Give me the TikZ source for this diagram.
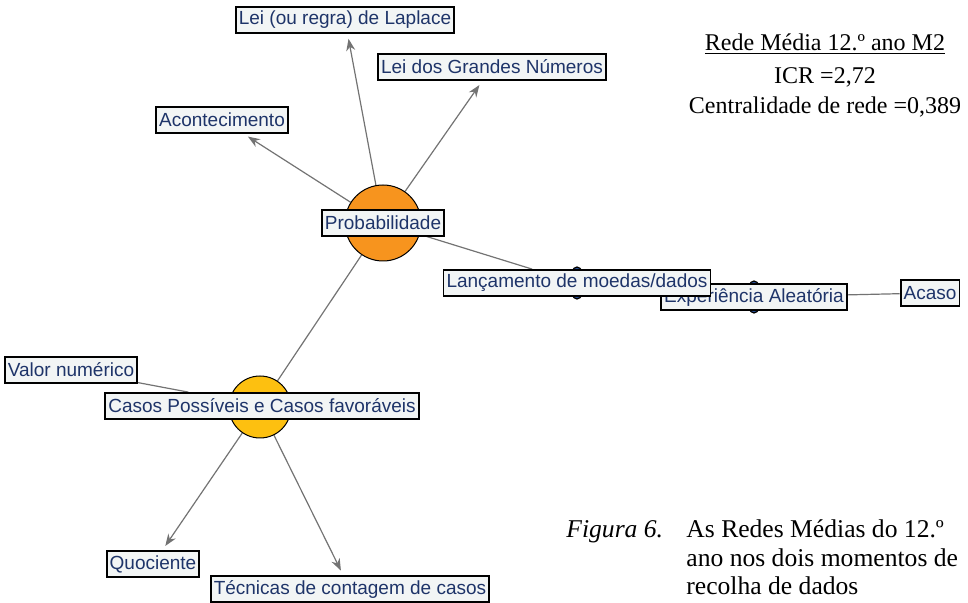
\documentclass[tikz,border=0pt]{standalone}
\usepackage{fontspec}
\setmainfont{Liberation Serif}
\setsansfont{Liberation Sans}
\usepackage{tikz}
\usetikzlibrary{arrows.meta,shapes.geometric}
\pgfdeclarelayer{background}
\pgfsetlayers{background,main}
\definecolor{boxfill}{RGB}{242,245,245}
\definecolor{boxtext}{RGB}{30,52,105}
\definecolor{hubprob}{RGB}{247,148,30}
\definecolor{hubcasos}{RGB}{253,192,16}
\definecolor{linkgrey}{RGB}{115,115,115}
\definecolor{markblue}{RGB}{40,80,150}

\begin{document}
\begin{tikzpicture}[x=0.5pt, y=-0.5pt,
    box/.style={draw=black, line width=0.9pt, fill=boxfill, text=boxtext,
      font=\sffamily\fontsize{9.5}{10}\selectfont, inner xsep=1.5pt,
      inner ysep=0pt, minimum height=13pt},
    hub/.style={circle, draw=black, line width=0.5pt, inner sep=0pt},
    marker/.style={ellipse, draw=black, line width=0.6pt, fill=markblue,
      inner sep=0pt, minimum width=7.5pt, minimum height=16pt},
    link/.style={draw=linkgrey, line width=0.6pt},
    arrowlink/.style={link, -{Stealth[length=6pt,width=4.5pt]}, shorten >=2.5pt},
    note/.style={font=\fontsize{12}{14}\selectfont, inner sep=0pt},
    caption/.style={font=\fontsize{12.8}{15}\selectfont, inner sep=0pt, anchor=base west}]
  \useasboundingbox (0,0) rectangle (968,603);
  % hubs
  \node[hub, fill=hubprob, minimum size=38pt] (probc) at (383,223) {};
  \node[hub, fill=hubcasos, minimum size=31pt] (casosc) at (260,407) {};
  \node[marker] (lancdot) at (577,283) {};
  \node[marker] (expdot) at (754,297) {};
  % concept labels
  \node[box] (prob) at (383,223) {Probabilidade};
  \node[box] (laplace) at (345,20) {Lei (ou regra) de Laplace};
  \node[box] (grandes) at (492,67) {Lei dos Grandes Números};
  \node[box] (acont) at (222,120) {Acontecimento};
  \node[box] (exper) at (754,297) {Experiência Aleatória};
  \node[box] (lanc) at (577,283) {Lançamento de moedas/dados};
  \node[box] (acaso) at (930,293) {Acaso};
  \node[box] (valor) at (71,370) {Valor numérico};
  \node[box] (casos) at (262,406) {Casos Possíveis e Casos favoráveis};
  \node[box] (quoc) at (153,564) {Quociente};
  \node[box] (tecn) at (350,589) {Técnicas de contagem de casos};
  % connectors
  \begin{pgfonlayer}{background}
    \draw[arrowlink] (probc) -- (laplace);
    \draw[arrowlink] (probc) -- (grandes);
    \draw[arrowlink] (probc) -- (acont);
    \draw[link] (probc) -- (lanc);
    \draw[link] (probc) -- (casosc);
    \draw[link] (exper) -- (acaso);
    \draw[link] (valor) -- (casos);
    \draw[arrowlink] (casosc) -- (quoc);
    \draw[arrowlink] (casosc) -- (tecn);
  \end{pgfonlayer}
  % network indices
  \node[note] (title) at (825,44) {\underline{Rede Média 12.º ano M2}};
  \node[note] (icr) at (825,77) {ICR =2,72};
  \node[note] (central) at (825,107) {Centralidade de rede =0,389};
  % caption
  \node[caption] (figlab) at (566,538) {\textit{Figura 6.}};
  \node[caption] (cap1) at (686,538) {As Redes Médias do 12.º};
  \node[caption] (cap2) at (686,566) {ano nos dois momentos de};
  \node[caption] (cap3) at (686,594) {recolha de dados};
\end{tikzpicture}
\end{document}
